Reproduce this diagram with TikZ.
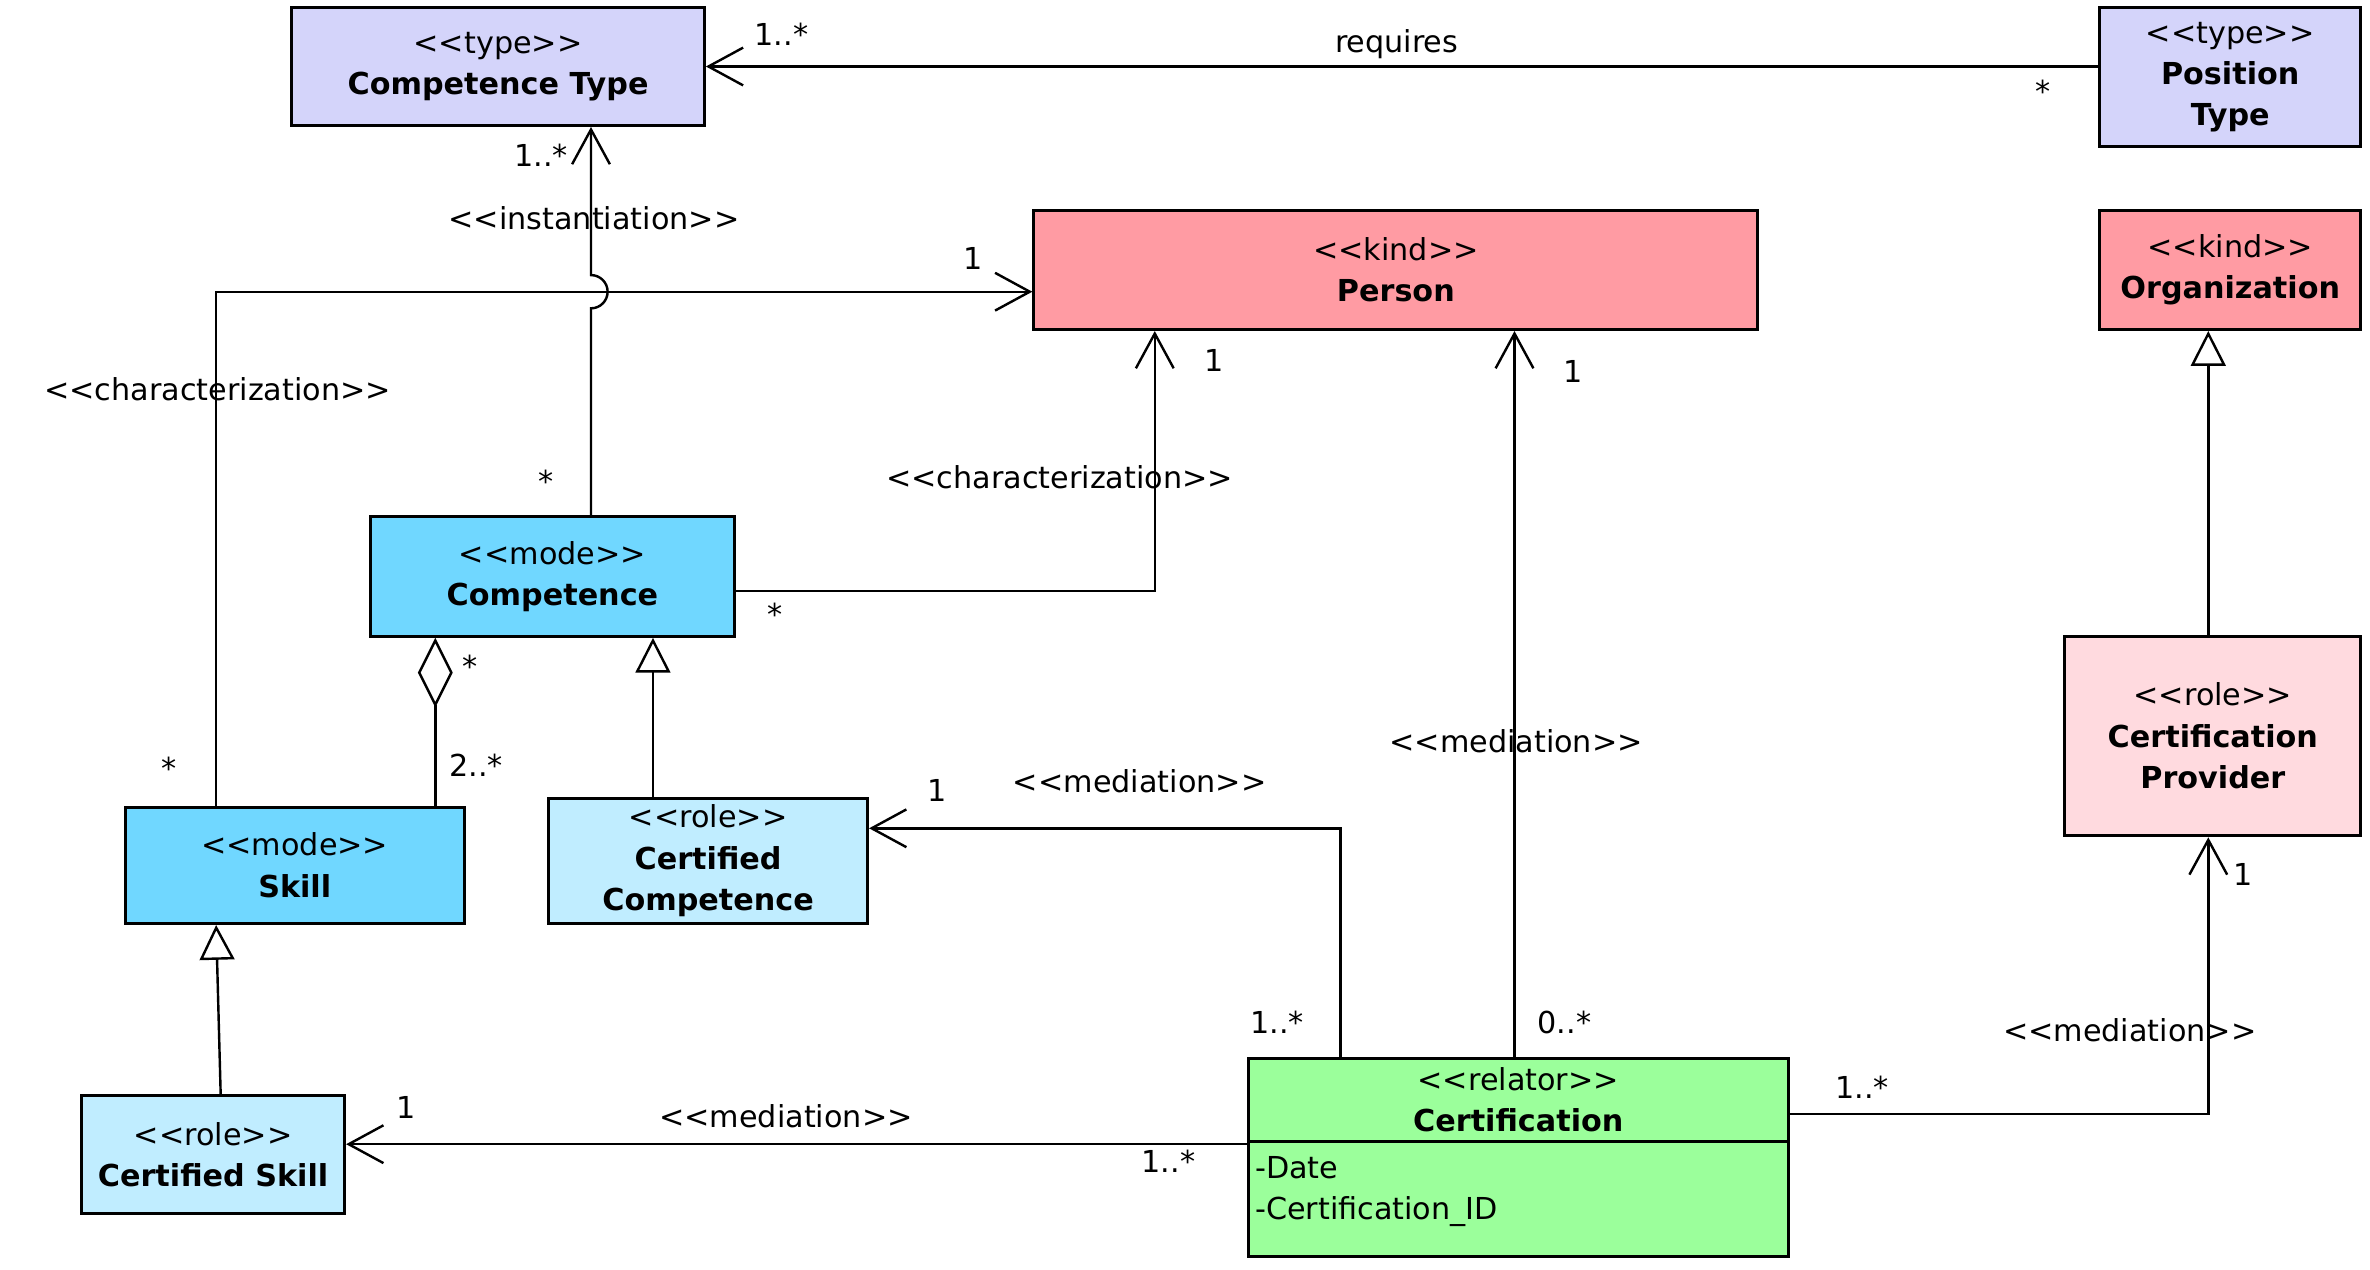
\documentclass[tikz,border=0pt]{standalone}
\usepackage{fontspec}
\setmainfont{DejaVu Sans}
\usetikzlibrary{arrows.meta,calc}
\newcommand\stp[1]{<\kern0pt<#1>\kern0pt>}
\definecolor{typec}{RGB}{212,212,250}
\definecolor{kindc}{RGB}{255,155,163}
\definecolor{modec}{RGB}{112,215,255}
\definecolor{rolec}{RGB}{192,237,255}
\definecolor{rolep}{RGB}{255,218,223}
\definecolor{relc}{RGB}{155,255,155}
\tikzset{
  cls/.style={draw, line width=1pt, align=center, inner sep=0pt, font=\fontsize{10}{13.7}\selectfont},
  conn/.style={line width=0.8pt},
  assoc/.style={conn, -{Straight Barb[length=11.5pt,width=12.5pt]}},
  gen/.style={conn, -{Triangle[open,length=11.5pt,width=11.5pt]}},
  aggr/.style={conn, {Diamond[open,length=23pt,width=11.5pt]}-},
  lbl/.style={anchor=base, inner sep=0pt, font=\fontsize{10}{12}\selectfont},
}
\begin{document}
\begin{tikzpicture}[x=0.5pt,y=-0.5pt]
\useasboundingbox (0,0) rectangle (1568,839.6);
% classes
\node[cls, fill=typec, minimum width=136.5pt, minimum height=39pt] (ctype) at (329.5,44) {\stp{type}\\\textbf{Competence Type}};
\node[cls, fill=typec, minimum width=86.5pt, minimum height=46pt] (ptype) at (1475.5,51) {\stp{type}\\\textbf{Position}\\\textbf{Type}};
\node[cls, fill=kindc, minimum width=239.5pt, minimum height=39.5pt] (person) at (923.5,178.5) {\stp{kind}\\\textbf{Person}};
\node[cls, fill=kindc, minimum width=86.5pt, minimum height=39.5pt] (org) at (1475.5,178.5) {\stp{kind}\\\textbf{Organization}};
\node[cls, fill=modec, minimum width=120.5pt, minimum height=39.5pt] (comp) at (365.5,381.5) {\stp{mode}\\\textbf{Competence}};
\node[cls, fill=modec, minimum width=112pt, minimum height=38.5pt] (skill) at (195,572.5) {\stp{mode}\\\textbf{Skill}};
\node[cls, fill=rolec, minimum width=105.5pt, minimum height=41.5pt] (certcomp) at (468.5,569.5) {\stp{role}\\\textbf{Certified}\\\textbf{Competence}};
\node[cls, fill=rolec, minimum width=87pt, minimum height=39pt] (certskill) at (141,764) {\stp{role}\\\textbf{Certified Skill}};
\node[cls, fill=rolep, minimum width=98pt, minimum height=66pt] (prov) at (1464,487) {\stp{role}\\\textbf{Certification}\\\textbf{Provider}};
\node[cls, fill=relc, minimum width=178.5pt, minimum height=65.5pt] (cert) at (1004.5,765.5) {};
\node[cls, draw=none] (certhead) at (1004.5,727.5) {\stp{relator}\\\textbf{Certification}};
\draw[line width=1pt] ([yshift=-28pt]cert.north west) -- ([yshift=-28pt]cert.north east);
\node[lbl, anchor=base west] (attr1) at (830,780) {-Date};
\node[lbl, anchor=base west] (attr2) at (830,807) {-Certification\_ID};
% connectors
\draw[assoc] (ptype.west |- ctype.east) -- (ctype.east);
\coordinate (hb) at (391,204);
\coordinate (ht) at (391,182);
\draw[assoc] ([xshift=12.75pt]comp.north) -- (hb) arc[start angle=-90,end angle=90,radius=5.5pt] -- (ht |- ctype.south);
\draw[assoc] ([xshift=-26pt]skill.north) |- ([yshift=-7.25pt]person.west);
\draw[assoc] ([yshift=-4.75pt]comp.east) -| ([xshift=-79.75pt]person.south);
\draw[aggr] ([xshift=-38.75pt]comp.south) coordinate (ag) -- (ag |- skill.north);
\draw[gen] ([xshift=-18.25pt]certcomp.north) coordinate (g1) -- (g1 |- comp.south);
\draw[gen] ([xshift=2.5pt]certskill.north) -- ([xshift=-26pt]skill.south);
\draw[gen] ([xshift=-1.5pt]prov.north) coordinate (g3) -- (g3 |- org.south);
\draw[assoc] ([xshift=-58.75pt]cert.north) |- ([yshift=10.75pt]certcomp.east);
\draw[assoc] ([xshift=-1.25pt]cert.north) coordinate (m2) -- (m2 |- person.south);
\draw[assoc] ([yshift=4.25pt]cert.west) coordinate (m3) -- (m3 -| certskill.east);
\draw[assoc] ([yshift=14.25pt]cert.east) -| ([xshift=-1.5pt]prov.south);
% labels
\node[lbl] (t1) at (924,35) {requires};
\node[lbl] (t2) at (517,30) {1..*};
\node[lbl] (t3) at (1352,68) {*};
\node[lbl] (t4) at (393,152) {\stp{instantiation}};
\node[lbl] (t5) at (358,110) {1..*};
\node[lbl] (t6) at (361,326) {*};
\node[lbl] (t7) at (144,265) {\stp{characterization}};
\node[lbl] (t8) at (644,178) {1};
\node[lbl] (t9) at (112,516) {*};
\node[lbl] (t10) at (701,323) {\stp{characterization}};
\node[lbl] (t11) at (803,246) {1};
\node[lbl] (t12) at (513,414) {*};
\node[lbl] (t13) at (311,448) {*};
\node[lbl] (t14) at (315,514) {2..*};
\node[lbl] (t15) at (754,524) {\stp{mediation}};
\node[lbl] (t16) at (620,530) {1};
\node[lbl] (t17) at (845,684) {1..*};
\node[lbl] (t18) at (1003,498) {\stp{mediation}};
\node[lbl] (t19) at (1041,253) {1};
\node[lbl] (t20) at (1035,684) {0..*};
\node[lbl] (t21) at (520,746) {\stp{mediation}};
\node[lbl] (t22) at (269,740) {1};
\node[lbl] (t23) at (773,776) {1..*};
\node[lbl] (t24) at (1409,689) {\stp{mediation}};
\node[lbl] (t25) at (1484,586) {1};
\node[lbl] (t26) at (1232,727) {1..*};
\end{tikzpicture}
\end{document}
